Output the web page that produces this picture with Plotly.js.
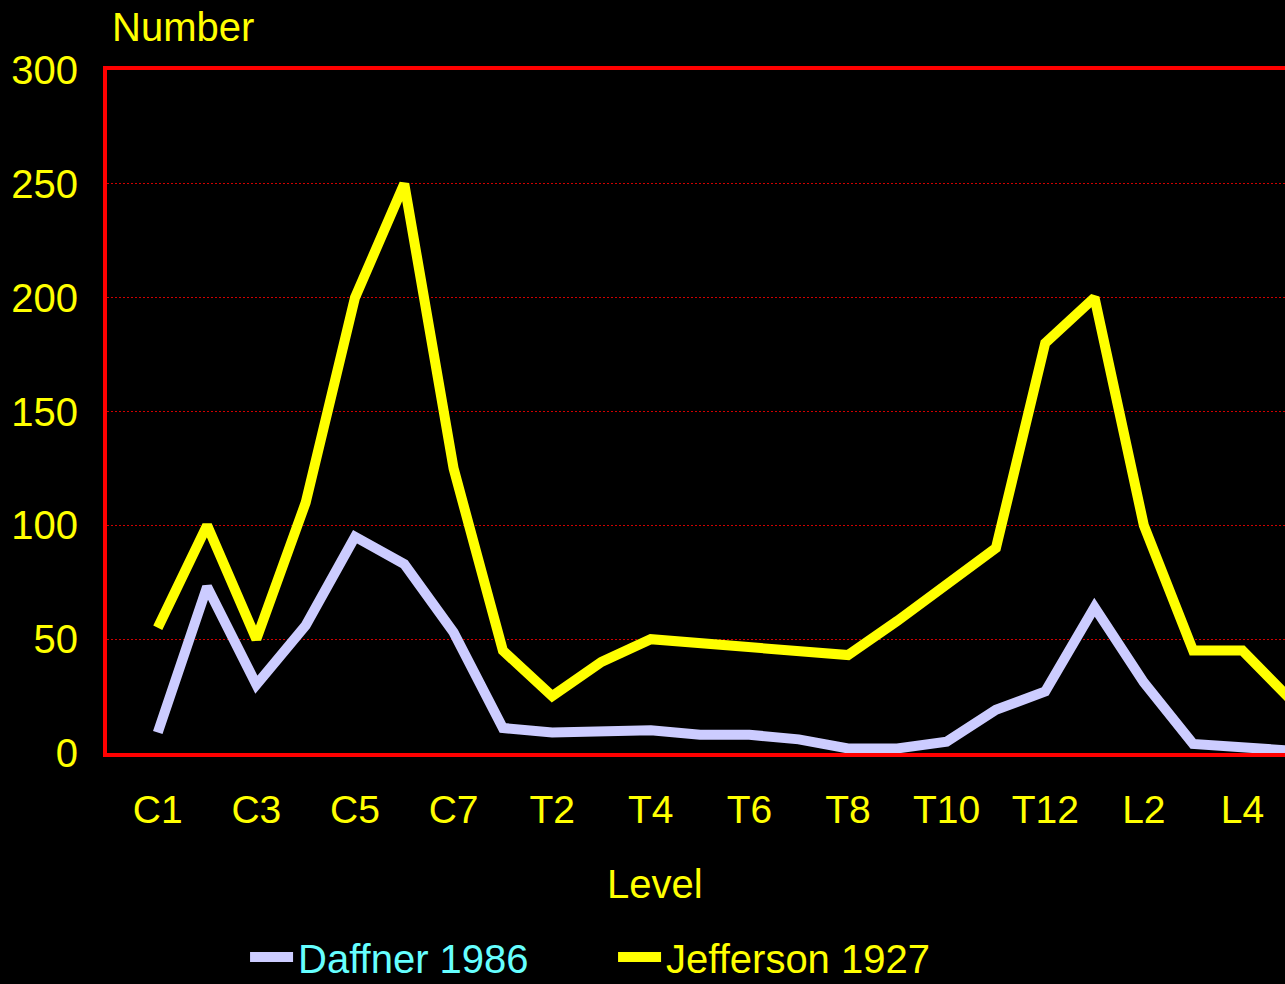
<!DOCTYPE html>
<html>
<head>
<meta charset="utf-8">
<script src="https://cdn.plot.ly/plotly-3.0.1.min.js"></script>
<style>
html,body{margin:0;padding:0;background:#000;overflow:hidden;}
#chart{width:1360px;height:984px;}
</style>
</head>
<body>
<div id="chart"></div>
<script>
var levels = ['C1','C2','C3','C4','C5','C6','C7',
  'T1','T2','T3','T4','T5','T6','T7','T8','T9','T10','T11','T12',
  'L1','L2','L3','L4','L5'];
var daffner1986 = [9,73,30,56,95,83,53,11,9,9,10,8,8,6,2,2,5,19,27,64,31,4,3,1];
var jefferson1927 = [55,100,50,110,200,250,125,45,25,40,50,48,47,45,43,58,74,90,180,200,100,45,45,23];
var tickLabels = ['C1','C3','C5','C7','T2','T4','T6','T8','T10','T12','L2','L4'];
var yTicks = [0,50,100,150,200,250,300];

var FONT = 'Liberation Sans, Arial, sans-serif';

var traces = [
  {x: levels, y: daffner1986, type: 'scatter', mode: 'lines',
   name: '<span style="color:#66ffff">Daffner 1986</span>',
   line: {color: '#ccccff', width: 10}, cliponaxis: true},
  {x: levels, y: jefferson1927, type: 'scatter', mode: 'lines',
   name: 'Jefferson 1927',
   line: {color: '#ffff00', width: 10}, cliponaxis: true}
];

var layout = {
  width: 1360, height: 984,
  margin: {l: 107, r: 17, t: 70, b: 231, autoexpand: false},
  paper_bgcolor: '#000', plot_bgcolor: '#000',
  font: {family: FONT, color: '#ffff00', size: 39},
  xaxis: {
    type: 'category', categoryorder: 'array', categoryarray: levels,
    range: [-1.03, 24.04], automargin: false,
    tickvals: tickLabels, ticktext: tickLabels,
    showgrid: false, zeroline: false,
    showline: true, mirror: true, linecolor: '#ff0000', linewidth: 4,
    ticks: '', ticklabelstandoff: 19,
    tickfont: {family: FONT, color: '#ffff00', size: 39}
  },
  yaxis: {
    range: [0, 300], tickvals: yTicks, automargin: false,
    showgrid: true, gridcolor: '#d00000', gridwidth: 1, griddash: '2px,2px',
    zeroline: false,
    showline: true, mirror: true, linecolor: '#ff0000', linewidth: 4,
    ticks: '', ticklabelstandoff: 17,
    tickfont: {family: FONT, color: '#ffff00', size: 40}
  },
  showlegend: true,
  legend: {
    orientation: 'h', x: 0.1117, xanchor: 'left', y: -0.2987, yanchor: 'middle',
    bgcolor: 'rgba(0,0,0,0)', font: {family: FONT, color: '#ffff00', size: 40},
    entrywidth: 310, entrywidthmode: 'pixels', itemwidth: 43,
    traceorder: 'normal'
  },
  annotations: [
    {text: 'Number', xref: 'paper', yref: 'paper', x: 0.0024, y: 1.063,
     xanchor: 'left', yanchor: 'middle', showarrow: false,
     font: {family: FONT, color: '#ffff00', size: 40}},
    {text: 'Level', xref: 'paper', yref: 'paper', x: 0.4434, y: -0.1918,
     xanchor: 'center', yanchor: 'middle', showarrow: false,
     font: {family: FONT, color: '#ffff00', size: 40}}
  ]
};

Plotly.newPlot('chart', traces, layout, {displayModeBar: false, staticPlot: true});
</script>
</body>
</html>
